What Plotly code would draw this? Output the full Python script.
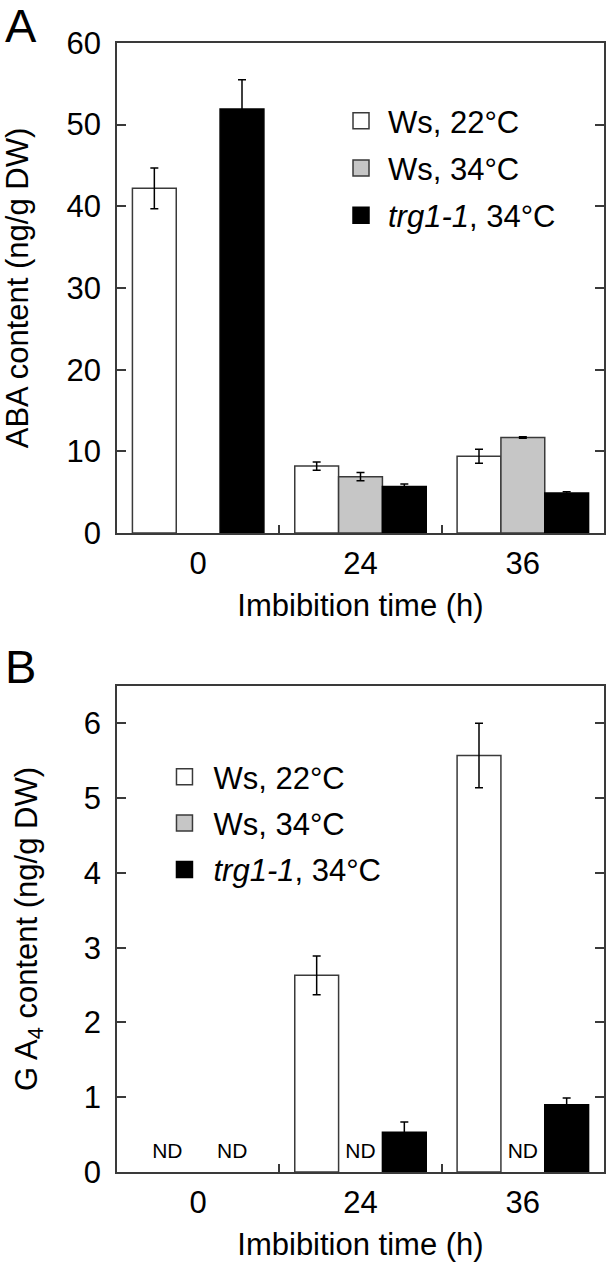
import plotly.graph_objects as go

# ---------------- data ----------------
time_labels = ["0", "24", "36"]
time_pos = [0, 1, 2]

series_names = ["Ws, 22°C", "Ws, 34°C", "<i>trg1-1</i>, 34°C"]
series_fill = ["#ffffff", "#c6c6c6", "#000000"]

# Panel A: ABA content (ng/g DW)
aba_ws22 = [42.2, 8.2, 9.4]
aba_ws22_err = [2.5, 0.5, 0.85]
aba_ws34 = [None, 6.9, 11.7]
aba_ws34_err = [0, 0.5, 0.1]
aba_trg = [51.9, 5.7, 4.9]
aba_trg_err = [3.6, 0.3, 0.15]

# Panel B: GA4 content (ng/g DW)
ga_ws22 = [None, 2.63, 5.57]
ga_ws22_err = [0, 0.26, 0.43]
ga_ws34 = [None, None, None]
ga_ws34_err = [0, 0, 0]
ga_trg = [None, 0.53, 0.90]
ga_trg_err = [0, 0.14, 0.09]

# Not-detected labels (x in time-slot units)
nd_x = [-0.19, 0.21, 1.0, 2.0]

FONT = "Liberation Sans, Arial, Helvetica, sans-serif"
LINE = "#3a3a3a"
FS = 31

fig = go.Figure()

panelA = [(aba_ws22, aba_ws22_err), (aba_ws34, aba_ws34_err), (aba_trg, aba_trg_err)]
panelB = [(ga_ws22, ga_ws22_err), (ga_ws34, ga_ws34_err), (ga_trg, ga_trg_err)]

for axes, panel in ((("x", "y"), panelA), (("x2", "y2"), panelB)):
    for i, (vals, errs) in enumerate(panel):
        fig.add_trace(go.Bar(
            x=time_pos, y=vals, xaxis=axes[0], yaxis=axes[1],
            marker=dict(color=series_fill[i], line=dict(color=LINE if i < 2 else "#000", width=1.5)),
            error_y=dict(type="data", array=errs, color="#000", thickness=1.5, width=4),
            showlegend=False, offsetgroup=str(i), hoverinfo="skip",
        ))

# legend entries
for lg, ax in (("legend", ("x", "y")), ("legend2", ("x2", "y2"))):
    for i in range(3):
        fig.add_trace(go.Scatter(
            x=[None], y=[None], xaxis=ax[0], yaxis=ax[1], mode="markers",
            name=series_names[i], legend=lg, legendgroup=lg + str(i),
            marker=dict(symbol="square", size=16, color=series_fill[i],
                        line=dict(color=LINE if i < 2 else "#000", width=1.5)),
        ))

# ND labels
fig.add_trace(go.Scatter(
    x=nd_x, y=[0.12] * len(nd_x), xaxis="x2", yaxis="y2", mode="text",
    text=["ND"] * len(nd_x), textposition="top center",
    textfont=dict(size=21, color="#000", family=FONT), showlegend=False,
    hoverinfo="skip",
))

xaxis_common = dict(
    range=[-0.5, 2.5], tickmode="array", tickvals=time_pos, ticktext=time_labels,
    ticks="", showline=True, linecolor=LINE, linewidth=1.5, mirror=True,
    showgrid=False, zeroline=False, ticklabelstandoff=2, automargin=False,
    tickfont=dict(size=FS, family=FONT, color="#000"),
    minor=dict(tickmode="array", tickvals=[0.5, 1.5], ticks="inside", ticklen=8,
               tickwidth=1.5, tickcolor=LINE, showgrid=False),
    title=dict(text="Imbibition time (h)", font=dict(size=FS, family=FONT, color="#000"), standoff=14),
)
yaxis_common = dict(
    ticks="inside", ticklen=9, tickwidth=1.5, tickcolor=LINE,
    showline=True, linecolor=LINE, linewidth=1.5, mirror="ticks",
    showgrid=False, zeroline=False, ticklabelstandoff=8, automargin=False,
    tickfont=dict(size=FS, family=FONT, color="#000"),
)

fig.update_layout(
    width=612, height=1271,
    margin=dict(l=117, r=8, t=0, b=0, autoexpand=False),
    paper_bgcolor="white", plot_bgcolor="white",
    barmode="group", bargap=0.19, bargroupgap=0,
    font=dict(family=FONT, color="#000"),
    xaxis=dict(domain=[0, 1], anchor="y", **xaxis_common),
    xaxis2=dict(domain=[0, 1], anchor="y2", **xaxis_common),
    yaxis=dict(domain=[0.5806, 0.9662], anchor="x", range=[0, 60], tickmode="array",
               tickvals=[0, 10, 20, 30, 40, 50, 60],
               title=dict(text="ABA content (ng/g DW)", font=dict(size=FS, family=FONT, color="#000"), standoff=33),
               **yaxis_common),
    yaxis2=dict(domain=[0.0779, 0.4603], anchor="x2", range=[0, 6.5], tickmode="array",
                tickvals=[0, 1, 2, 3, 4, 5, 6],
                title=dict(text="G A<sub>4</sub> content (ng/g DW)", font=dict(size=FS, family=FONT, color="#000"), standoff=37),
                **yaxis_common),
    legend=dict(x=0.4456, y=0.926, xanchor="left", yanchor="top", bgcolor="rgba(0,0,0,0)",
                font=dict(size=FS, family=FONT, color="#000"), tracegroupgap=4,
                itemwidth=44),
    legend2=dict(x=0.079, y=0.4098, xanchor="left", yanchor="top", bgcolor="rgba(0,0,0,0)",
                 font=dict(size=FS, family=FONT, color="#000"), tracegroupgap=3,
                 itemwidth=48),
    annotations=[
        dict(text="A", x=-0.234, y=0.980, xref="paper", yref="paper", xanchor="left", yanchor="middle",
             showarrow=False, font=dict(size=47, family=FONT, color="#000")),
        dict(text="B", x=-0.234, y=0.476, xref="paper", yref="paper", xanchor="left", yanchor="middle",
             showarrow=False, font=dict(size=47, family=FONT, color="#000")),
    ],
)

fig.write_html("out.html", config={"displayModeBar": False},
               post_script="document.body.style.margin='0px';")
